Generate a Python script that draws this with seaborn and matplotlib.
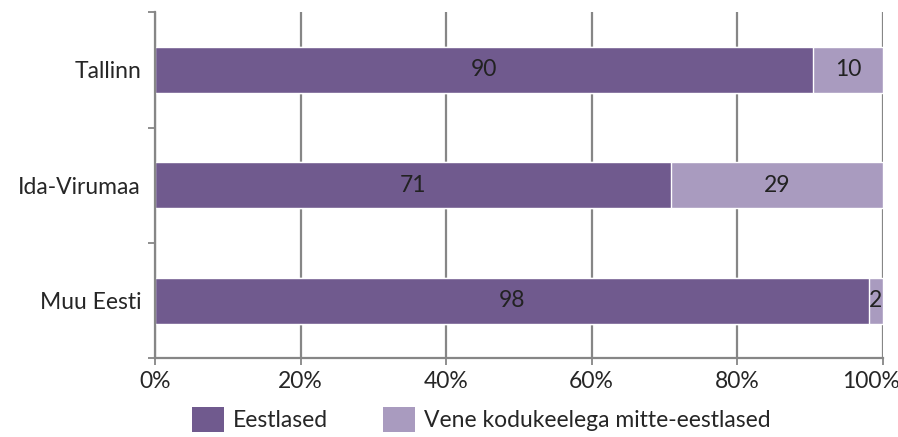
import matplotlib
matplotlib.use("Agg")
import matplotlib.pyplot as plt
import seaborn as sns
import pandas as pd
from matplotlib.patches import Patch
from matplotlib.ticker import FixedLocator, PercentFormatter
from matplotlib.transforms import ScaledTranslation

regions = ["Tallinn", "Ida-Virumaa", "Muu Eesti"]
eestlased = [90.4, 70.9, 98.1]
vene = [9.6, 29.1, 1.9]
series_names = ["Eestlased", "Vene kodukeelega mitte-eestlased"]
colors = ["#705a8e", "#a99bbf"]

df = pd.DataFrame({"region": regions, "eest": eestlased, "vene": vene})
df["total"] = df["eest"] + df["vene"]

sns.set_style("white")
plt.rcParams["font.family"] = ["Lato", "DejaVu Sans"]
FS = 16.5

fig, ax = plt.subplots(figsize=(8.98, 4.37), dpi=100)
fig.subplots_adjust(left=0.1726, right=0.983, top=0.972, bottom=0.18)

grid_c = "#868686"
ax.set_axisbelow(True)
ax.grid(axis="x", color=grid_c, linewidth=1.6)

sns.barplot(data=df, y="region", x="total", color=colors[1], width=0.4,
            orient="h", ax=ax, saturation=1)
sns.barplot(data=df, y="region", x="eest", color=colors[0], width=0.4,
            orient="h", ax=ax, saturation=1)

light, dark = ax.containers[0], ax.containers[1]
ax.bar_label(dark, labels=[f"{v:.0f}" for v in eestlased], label_type="center",
             fontsize=FS, color="#222222")
for bar, e, v in zip(light, eestlased, vene):
    y = bar.get_y() + bar.get_height() / 2
    ax.text(e + v / 2, y, f"{v:.0f}", ha="center", va="center",
            fontsize=FS, color="#222222")

ax.set_xlim(0, 100)
ax.set_ylim(2.5, -0.5)
ax.xaxis.set_major_locator(FixedLocator([0, 20, 40, 60, 80, 100]))
ax.xaxis.set_major_formatter(PercentFormatter(decimals=0))
ax.yaxis.set_minor_locator(FixedLocator([-0.5, 0.5, 1.5, 2.5]))
ax.tick_params(axis="y", which="major", length=0, pad=10, labelsize=FS)
ax.tick_params(axis="y", which="minor", left=True, length=5, width=1.3,
               color=grid_c, direction="out")
ax.tick_params(axis="x", bottom=True, length=5, width=1.3, color=grid_c,
               direction="out", labelsize=FS, pad=4)
ax.set_xlabel("")
ax.set_ylabel("")

# keep the 100% label inside the picture, as in the reference
fig.canvas.draw()
last = ax.get_xticklabels()[-1]
last.set_transform(last.get_transform() + ScaledTranslation(-12 / 100, 0, fig.dpi_scale_trans))

for s in ["top", "right"]:
    ax.spines[s].set_visible(False)
for s in ["left", "bottom"]:
    ax.spines[s].set_color(grid_c)
    ax.spines[s].set_linewidth(1.6)

handles = [Patch(facecolor=c, edgecolor="none") for c in colors]
fig.legend(handles, series_names, loc="lower center", ncol=2, frameon=False,
           fontsize=FS, bbox_to_anchor=(0.536, -0.035), handlelength=1.4,
           handleheight=1.3, columnspacing=2.4, handletextpad=0.4)

plt.savefig("out.png", dpi=100)
